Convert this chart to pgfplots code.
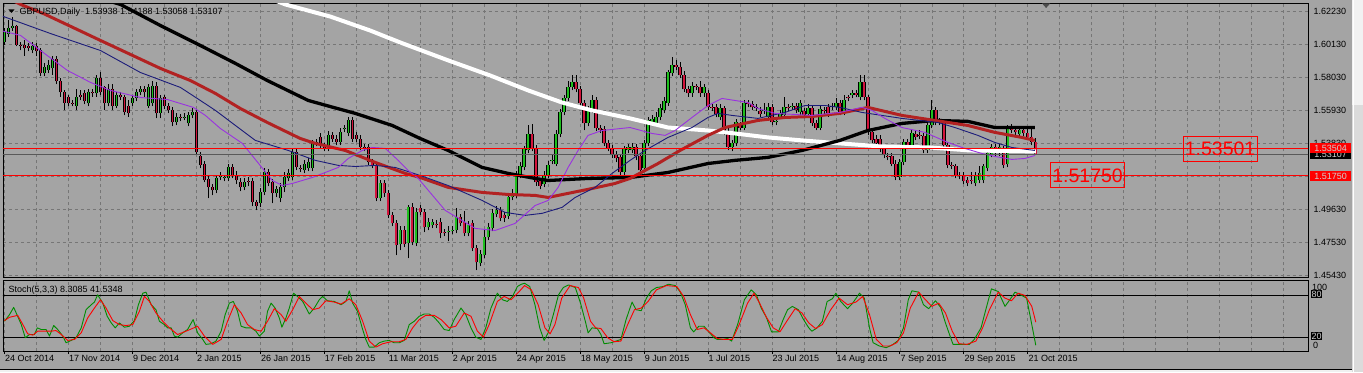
\documentclass[border=0pt]{standalone}
\usepackage{pgfplots}
\usepackage{pgfplotstable}
\usepackage{fontspec}
\setmainfont{Liberation Sans}
\pgfplotsset{compat=1.18}
\definecolor{bg}{HTML}{A4A4A4}
\definecolor{gridc}{HTML}{767676}
\definecolor{bullc}{HTML}{1EBE1E}
\definecolor{bearc}{HTML}{D2143C}
\definecolor{maRed}{HTML}{B22222}
\definecolor{maNavy}{HTML}{1C1C7A}
\definecolor{maPurp}{HTML}{9A32E0}
\definecolor{stG}{HTML}{008C00}
\definecolor{lbl}{HTML}{D0D0D0}
\newcommand{\sm}{\fontsize{9}{10}\selectfont}

\pgfplotstableread{
i o h l c
0 1.6024 1.6113 1.6005 1.6088
1 1.6075 1.6164 1.6062 1.6119
2 1.6119 1.6189 1.6100 1.6126
7 1.5973 1.6024 1.5954 1.5999
10 1.5827 1.5891 1.5808 1.5865
11 1.5846 1.5910 1.5827 1.5878
12 1.5859 1.5935 1.5820 1.5916
18 1.5623 1.5731 1.5592 1.5680
21 1.5636 1.5725 1.5617 1.5706
23 1.5700 1.5814 1.5680 1.5795
26 1.5636 1.5757 1.5617 1.5731
28 1.5623 1.5706 1.5604 1.5687
32 1.5642 1.5687 1.5623 1.5668
33 1.5668 1.5731 1.5649 1.5706
34 1.5706 1.5750 1.5687 1.5725
36 1.5623 1.5757 1.5604 1.5738
37 1.5636 1.5782 1.5617 1.5750
39 1.5573 1.5687 1.5541 1.5668
43 1.5515 1.5573 1.5496 1.5553
45 1.5547 1.5573 1.5528 1.5553
46 1.5509 1.5579 1.5490 1.5560
47 1.5560 1.5604 1.5541 1.5579
53 1.5083 1.5184 1.5064 1.5159
54 1.5165 1.5197 1.5146 1.5172
55 1.5159 1.5184 1.5140 1.5165
56 1.5159 1.5254 1.5140 1.5229
60 1.5102 1.5159 1.5083 1.5134
64 1.5000 1.5095 1.4975 1.5070
65 1.5070 1.5223 1.5051 1.5197
68 1.5064 1.5114 1.5038 1.5089
69 1.5032 1.5127 1.5006 1.5102
70 1.5102 1.5197 1.5070 1.5165
71 1.5159 1.5216 1.5140 1.5191
72 1.5165 1.5350 1.5146 1.5325
75 1.5210 1.5274 1.5191 1.5254
76 1.5223 1.5286 1.5204 1.5261
77 1.5223 1.5401 1.5204 1.5382
81 1.5350 1.5458 1.5331 1.5433
84 1.5388 1.5477 1.5369 1.5452
85 1.5471 1.5496 1.5452 1.5477
86 1.5445 1.5553 1.5426 1.5528
94 1.5032 1.5146 1.5013 1.5127
99 1.4739 1.4854 1.4701 1.4828
101 1.4746 1.4987 1.4650 1.4975
103 1.4746 1.4968 1.4726 1.4943
106 1.4847 1.4905 1.4828 1.4879
107 1.4860 1.4898 1.4841 1.4879
111 1.4816 1.4854 1.4758 1.4822
112 1.4822 1.4854 1.4803 1.4828
113 1.4828 1.4968 1.4809 1.4911
116 1.4809 1.4886 1.4790 1.4860
119 1.4619 1.4701 1.4600 1.4676
120 1.4669 1.4828 1.4650 1.4784
121 1.4784 1.4873 1.4765 1.4847
122 1.4841 1.4962 1.4822 1.4937
123 1.4930 1.4981 1.4911 1.4956
126 1.4917 1.5057 1.4898 1.5038
127 1.5038 1.5089 1.5019 1.5064
128 1.5051 1.5204 1.5032 1.5178
129 1.5178 1.5261 1.5159 1.5235
130 1.5229 1.5363 1.5210 1.5344
131 1.5337 1.5496 1.5318 1.5439
135 1.5121 1.5204 1.5102 1.5178
136 1.5178 1.5267 1.5159 1.5242
137 1.5267 1.5305 1.5248 1.5274
138 1.5254 1.5464 1.5235 1.5439
139 1.5439 1.5598 1.5420 1.5579
140 1.5579 1.5693 1.5560 1.5668
141 1.5668 1.5782 1.5649 1.5738
142 1.5738 1.5814 1.5719 1.5770
146 1.5509 1.5617 1.5490 1.5592
147 1.5592 1.5687 1.5573 1.5661
155 1.5197 1.5363 1.5178 1.5344
156 1.5337 1.5375 1.5318 1.5356
157 1.5337 1.5382 1.5318 1.5356
160 1.5223 1.5401 1.5204 1.5382
161 1.5382 1.5553 1.5363 1.5528
162 1.5509 1.5560 1.5490 1.5534
163 1.5509 1.5579 1.5490 1.5553
164 1.5547 1.5630 1.5528 1.5604
165 1.5592 1.5674 1.5573 1.5649
166 1.5642 1.5852 1.5623 1.5833
167 1.5827 1.5929 1.5808 1.5878
172 1.5700 1.5770 1.5680 1.5744
175 1.5700 1.5763 1.5680 1.5738
179 1.5547 1.5630 1.5528 1.5604
182 1.5356 1.5401 1.5331 1.5382
183 1.5382 1.5534 1.5363 1.5515
185 1.5483 1.5655 1.5464 1.5636
190 1.5585 1.5636 1.5566 1.5592
191 1.5547 1.5636 1.5528 1.5611
193 1.5515 1.5541 1.5496 1.5522
194 1.5553 1.5592 1.5534 1.5573
195 1.5560 1.5680 1.5541 1.5611
197 1.5611 1.5636 1.5592 1.5617
199 1.5579 1.5661 1.5560 1.5636
201 1.5566 1.5630 1.5547 1.5604
204 1.5483 1.5617 1.5464 1.5598
207 1.5611 1.5636 1.5592 1.5617
208 1.5611 1.5668 1.5592 1.5642
210 1.5579 1.5687 1.5560 1.5661
212 1.5687 1.5719 1.5668 1.5700
214 1.5674 1.5814 1.5655 1.5770
224 1.5165 1.5280 1.5146 1.5261
225 1.5261 1.5407 1.5242 1.5388
227 1.5369 1.5464 1.5350 1.5445
231 1.5337 1.5515 1.5318 1.5496
232 1.5496 1.5655 1.5477 1.5592
243 1.5127 1.5197 1.5108 1.5178
244 1.5146 1.5235 1.5127 1.5191
245 1.5146 1.5254 1.5127 1.5235
246 1.5223 1.5337 1.5204 1.5318
247 1.5312 1.5375 1.5293 1.5356
249 1.5318 1.5375 1.5299 1.5356
251 1.5248 1.5496 1.5229 1.5477
254 1.5439 1.5490 1.5420 1.5464
}\bulltab

\pgfplotstableread{
i o h l c
3 1.6126 1.6138 1.5999 1.6011
4 1.6011 1.6030 1.5973 1.5999
5 1.6005 1.6037 1.5941 1.5986
6 1.5999 1.6018 1.5967 1.5992
8 1.5999 1.6018 1.5935 1.5967
9 1.5973 1.5992 1.5808 1.5827
13 1.5916 1.5935 1.5757 1.5776
14 1.5776 1.5795 1.5680 1.5706
15 1.5706 1.5719 1.5592 1.5642
16 1.5674 1.5687 1.5617 1.5636
17 1.5642 1.5661 1.5617 1.5636
19 1.5687 1.5719 1.5655 1.5680
20 1.5700 1.5719 1.5630 1.5649
22 1.5706 1.5725 1.5680 1.5700
24 1.5795 1.5833 1.5687 1.5706
25 1.5738 1.5750 1.5592 1.5636
27 1.5731 1.5757 1.5592 1.5623
29 1.5687 1.5706 1.5655 1.5674
30 1.5674 1.5693 1.5560 1.5579
31 1.5623 1.5655 1.5553 1.5573
35 1.5725 1.5744 1.5680 1.5706
38 1.5750 1.5770 1.5541 1.5573
40 1.5674 1.5693 1.5598 1.5617
41 1.5617 1.5636 1.5573 1.5592
42 1.5592 1.5611 1.5490 1.5515
44 1.5547 1.5566 1.5522 1.5541
48 1.5579 1.5592 1.5312 1.5325
49 1.5299 1.5325 1.5223 1.5242
50 1.5248 1.5267 1.5134 1.5146
51 1.5153 1.5172 1.5032 1.5102
52 1.5102 1.5121 1.5051 1.5083
57 1.5229 1.5248 1.5159 1.5178
58 1.5178 1.5204 1.5121 1.5146
59 1.5134 1.5159 1.5076 1.5102
61 1.5140 1.5165 1.5108 1.5134
62 1.5140 1.5159 1.4981 1.5006
63 1.5006 1.5025 1.4956 1.4981
66 1.5197 1.5216 1.5108 1.5127
67 1.5134 1.5153 1.5000 1.5064
73 1.5325 1.5350 1.5210 1.5229
74 1.5223 1.5242 1.5197 1.5216
78 1.5388 1.5407 1.5363 1.5382
79 1.5420 1.5445 1.5350 1.5369
80 1.5363 1.5382 1.5331 1.5350
82 1.5433 1.5452 1.5394 1.5413
83 1.5413 1.5433 1.5369 1.5388
87 1.5528 1.5547 1.5394 1.5413
88 1.5433 1.5452 1.5388 1.5407
89 1.5413 1.5433 1.5337 1.5356
90 1.5356 1.5375 1.5331 1.5350
91 1.5356 1.5375 1.5242 1.5261
92 1.5261 1.5280 1.5223 1.5242
93 1.5242 1.5261 1.5013 1.5032
95 1.5127 1.5146 1.5044 1.5064
96 1.5064 1.5083 1.4905 1.4924
97 1.4924 1.4943 1.4854 1.4873
98 1.4873 1.4892 1.4669 1.4733
100 1.4828 1.4854 1.4720 1.4739
102 1.4975 1.5000 1.4733 1.4752
104 1.4968 1.4987 1.4924 1.4943
105 1.4943 1.4962 1.4816 1.4847
108 1.4867 1.4892 1.4841 1.4860
109 1.4879 1.4905 1.4777 1.4809
110 1.4816 1.4835 1.4790 1.4809
114 1.4911 1.4930 1.4854 1.4873
115 1.4879 1.4949 1.4790 1.4809
117 1.4873 1.4892 1.4695 1.4714
118 1.4714 1.4733 1.4574 1.4625
124 1.4956 1.4975 1.4886 1.4905
125 1.4924 1.4943 1.4879 1.4905
132 1.5439 1.5503 1.5331 1.5350
133 1.5350 1.5369 1.5114 1.5134
134 1.5140 1.5159 1.5089 1.5114
143 1.5770 1.5814 1.5706 1.5725
144 1.5731 1.5750 1.5623 1.5642
145 1.5642 1.5661 1.5464 1.5509
148 1.5661 1.5680 1.5458 1.5477
149 1.5477 1.5496 1.5445 1.5464
150 1.5471 1.5490 1.5363 1.5382
151 1.5382 1.5401 1.5331 1.5350
152 1.5350 1.5369 1.5286 1.5305
153 1.5312 1.5331 1.5261 1.5286
154 1.5293 1.5312 1.5172 1.5197
158 1.5356 1.5375 1.5274 1.5299
159 1.5299 1.5318 1.5178 1.5210
168 1.5878 1.5910 1.5852 1.5871
169 1.5871 1.5897 1.5795 1.5814
170 1.5820 1.5840 1.5706 1.5725
171 1.5725 1.5744 1.5680 1.5700
173 1.5744 1.5763 1.5719 1.5738
174 1.5738 1.5776 1.5680 1.5700
176 1.5700 1.5719 1.5592 1.5611
177 1.5611 1.5630 1.5585 1.5604
178 1.5611 1.5630 1.5547 1.5566
180 1.5604 1.5623 1.5433 1.5452
181 1.5458 1.5477 1.5337 1.5356
184 1.5496 1.5515 1.5464 1.5483
186 1.5636 1.5655 1.5611 1.5630
187 1.5630 1.5649 1.5592 1.5611
188 1.5611 1.5630 1.5585 1.5604
189 1.5585 1.5611 1.5547 1.5566
192 1.5611 1.5630 1.5496 1.5515
196 1.5611 1.5630 1.5585 1.5604
198 1.5617 1.5636 1.5573 1.5592
200 1.5585 1.5604 1.5541 1.5560
202 1.5604 1.5623 1.5490 1.5509
203 1.5509 1.5528 1.5464 1.5483
205 1.5592 1.5611 1.5566 1.5585
206 1.5611 1.5630 1.5553 1.5573
209 1.5642 1.5661 1.5560 1.5579
211 1.5674 1.5693 1.5649 1.5668
213 1.5700 1.5719 1.5674 1.5693
215 1.5770 1.5820 1.5655 1.5674
216 1.5674 1.5693 1.5433 1.5452
217 1.5452 1.5471 1.5382 1.5401
218 1.5413 1.5433 1.5363 1.5382
219 1.5413 1.5433 1.5325 1.5344
220 1.5350 1.5369 1.5286 1.5305
221 1.5299 1.5318 1.5274 1.5293
222 1.5299 1.5318 1.5235 1.5254
223 1.5254 1.5274 1.5146 1.5165
226 1.5394 1.5413 1.5350 1.5369
228 1.5439 1.5458 1.5401 1.5420
229 1.5433 1.5464 1.5407 1.5426
230 1.5426 1.5445 1.5318 1.5337
233 1.5592 1.5611 1.5496 1.5515
234 1.5522 1.5541 1.5496 1.5515
235 1.5515 1.5534 1.5337 1.5369
236 1.5369 1.5388 1.5223 1.5242
237 1.5242 1.5261 1.5216 1.5235
238 1.5235 1.5254 1.5159 1.5178
239 1.5178 1.5197 1.5153 1.5172
240 1.5178 1.5197 1.5121 1.5140
241 1.5146 1.5165 1.5108 1.5127
242 1.5146 1.5197 1.5121 1.5140
248 1.5356 1.5375 1.5299 1.5318
250 1.5344 1.5363 1.5223 1.5242
252 1.5477 1.5503 1.5445 1.5464
253 1.5464 1.5490 1.5433 1.5452
255 1.5464 1.5490 1.5426 1.5445
256 1.5445 1.5490 1.5401 1.5420
257 1.5420 1.5490 1.5369 1.5388
258 1.53938 1.54188 1.53058 1.53107
}\beartab

\pgfplotstableread{
x y
66.5 1.6304
70.25 1.6266
81.5 1.6189
91.5 1.6100
99 1.6024
111 1.5910
121.5 1.5814
131 1.5719
139.5 1.5642
147 1.5592
156.5 1.5541
166 1.5483
176 1.5464
182.75 1.5445
191 1.5420
199.5 1.5401
209 1.5382
219 1.5363
231.5 1.5356
241.5 1.5337
258 1.5331
}\maWhite

\pgfplotstableread{
x y
24 1.6304
29 1.6266
39 1.6132
49 1.6005
57.75 1.5891
65.75 1.5782
76 1.5655
82.25 1.5611
87.75 1.5573
97 1.5496
104 1.5413
111 1.5337
119.5 1.5229
126 1.5191
132.75 1.5159
136 1.5146
146 1.5159
156.5 1.5165
166 1.5197
176 1.5254
182.75 1.5274
191 1.5293
199.5 1.5337
209 1.5401
216 1.5464
224.5 1.5509
232.75 1.5528
241 1.5522
247.75 1.5483
257.75 1.5483
}\maBlack

\pgfplotstableread{
x y
1.5 1.6298
4 1.6266
9.75 1.6208
24 1.6037
39 1.5859
46.5 1.5782
52.75 1.5700
59 1.5604
65.75 1.5515
74 1.5413
77.75 1.5382
85.25 1.5337
92.75 1.5261
100.25 1.5191
104 1.5165
111 1.5102
119.5 1.5070
126 1.5057
132.75 1.5051
136 1.5038
141 1.5064
147 1.5095
152.75 1.5127
156.5 1.5159
163.5 1.5254
169 1.5337
176 1.5433
180.25 1.5483
188.5 1.5528
195.25 1.5547
202 1.5553
209 1.5573
216 1.5611
224.5 1.5560
232.75 1.5528
241 1.5496
247.75 1.5452
254.5 1.5420
257.75 1.5401
}\maRedT

\pgfplotstableread{
x y
-1 1.6196
11.5 1.6081
24 1.5973
34 1.5833
44 1.5738
49 1.5655
52.75 1.5592
62.75 1.5401
71 1.5337
77.75 1.5274
83.5 1.5242
87.75 1.5235
92.75 1.5242
97.75 1.5229
104 1.5178
111 1.5114
119.5 1.5019
125.25 1.4943
130.25 1.4924
134.5 1.4937
139.5 1.4975
142.75 1.5038
147.75 1.5102
152 1.5191
156.5 1.5274
160.25 1.5337
166 1.5420
172 1.5483
176 1.5547
178.5 1.5573
182 1.5560
188.5 1.5541
195.25 1.5579
200.25 1.5623
205.25 1.5623
209 1.5611
214.5 1.5579
224.5 1.5541
233.5 1.5515
237.75 1.5483
243.5 1.5433
247.75 1.5388
252 1.5356
257.75 1.5337
}\maNavyT

\pgfplotstableread{
x y
-1 1.6100
4 1.6069
9 1.5973
15.75 1.5846
21.5 1.5770
26.5 1.5719
34 1.5674
40.75 1.5661
47.25 1.5611
50.25 1.5560
54 1.5477
59.5 1.5382
67 1.5146
69.5 1.5114
72 1.5127
77 1.5165
83.5 1.5229
86 1.5286
89.5 1.5337
92 1.5356
95.25 1.5350
98.5 1.5274
101 1.5210
103.5 1.5159
110.25 1.4956
117.75 1.4841
122.75 1.4828
127.75 1.4873
132.75 1.4987
136 1.5019
138.5 1.5102
141 1.5229
143.5 1.5337
146 1.5433
149.5 1.5464
156.5 1.5483
162 1.5445
165.25 1.5433
167.75 1.5464
172 1.5547
176 1.5623
179.5 1.5668
186 1.5642
188.5 1.5604
192.75 1.5573
202 1.5560
209 1.5579
214.5 1.5611
217 1.5592
220.25 1.5541
224.5 1.5483
230.25 1.5452
236 1.5388
240.25 1.5350
244.5 1.5318
247.75 1.5299
252 1.5280
255.25 1.5286
257.75 1.5305
}\maPurpT

\pgfplotstableread{
x y
0 42.9
1.25 52.4
2.3 62.9
3.3 50
4.2 38.1
5.2 19.1
6.25 23.8
7.5 23.8
8.2 33.4
9.2 31
10.4 31
11.25 21.5
12.3 36.7
13.3 31
14.6 21.5
15.4 11.9
16.7 15.3
17.9 19.1
19.2 33.4
20.4 59.5
21.7 66.7
22.5 70.5
23.3 81
24.6 69
25.7 50
26.7 40.5
27.7 33.4
28.75 40.5
30 34.3
31.25 35.7
32.5 43.8
33.5 66.7
34.6 83.3
35.4 84.8
36.7 66.7
37.9 59.5
38.75 42.9
40 38.1
40.8 33.4
41.7 33.4
42.5 21.5
43.3 20
44.6 26.2
45.8 31
47.2 45.3
48.3 26.2
49.6 16.7
50.4 9.6
51.7 10.5
52.9 14.3
54.2 28.6
55.2 52.4
56.25 69
57.25 71.4
58.3 57.2
59.2 35.7
60.4 33.4
61.7 33.4
62.9 28.6
63.75 21.5
65 28.6
65.8 57.2
66.7 69
67.7 61.9
68.75 47.6
69.4 34.3
70.4 47.6
71.25 61.9
72.3 83.3
73.3 78.6
74.6 71.4
76.25 53.3
77.5 61.9
78.75 73.8
79.6 78.6
80.8 72.4
82.5 71.4
84.2 66.7
85.4 71.4
86.25 86.7
87.1 69
88.3 57.2
89.6 31
90.4 16.7
91.25 5.7
92.5 5.7
93.75 11.9
95 14.3
96.25 15.3
97.5 11.9
98.75 11.9
100 15.3
101.25 38.1
102.5 42.9
103.75 50
105 53.3
106.25 53.3
107.5 48.6
108.75 40.5
110 31
111.25 29.5
112.5 45.3
114.2 61.9
115.4 52.4
116.7 33.4
117.9 20
119.2 16.7
120.4 33.4
121.7 61.9
123.3 83.3
124.6 73.8
125.8 71.4
127.1 78.6
128.3 92.9
129.3 96.2
130.1 97.6
131.4 92.9
132.7 66.7
133.9 33.4
135 15.3
136 26.2
137.3 52.4
138.6 81
139.8 91.4
141.1 95.2
142.8 91.4
144.1 69
145.3 42.9
146 26.2
147 33.4
148.3 32.4
149.2 23.8
150 10.5
151.7 11.9
153 14.3
154.2 16.7
155.5 45.3
157 70.5
158 59.5
159.3 58.1
160.6 76.2
161.8 86.7
163.1 91.4
164.8 92.9
166.1 96.2
167.8 94.3
169 85.7
170.3 66.7
171.6 33.4
172.4 27.6
173.7 35.7
175 35.7
176.2 27.6
177.5 19.1
178.3 16.7
179.6 16.7
180.9 18.1
181.9 14.3
183.4 38.1
185.1 73.8
186.8 88.1
188.1 81
189.3 61.9
190.6 48.6
191.9 27.6
193.6 27.6
194.8 45.3
195.9 59.5
197.1 64.3
198.6 59.5
199.9 45.3
201.2 33.4
202 28.6
203.3 33.4
204.6 42.9
205.8 71.4
207.1 75.2
208 83.3
209.2 71.4
210.9 61
212.2 69
213.9 83.3
215.1 76.2
216.4 33.4
217.3 11.9
218.9 7.2
220.6 4.8
222.3 9.6
223.6 15.3
224.9 33.4
226.1 73.8
227 86.7
228.7 84.8
229.9 66.7
231.2 61
232.9 72.4
234.2 62.9
235.4 40.5
236.7 19.1
237.3 9.6
239.3 9.6
241.4 9.6
242.6 16.7
244.3 33.4
245.6 61.9
246.9 89.5
248.6 85.7
250.3 64.3
251.5 73.8
252.8 84.8
254.5 80
255.7 76.2
257 38.1
258 8.3
}\stMain

\pgfplotstableread{
x y
0 43.8
1.25 48.6
3.3 51.4
4.6 38.1
5.8 24.8
7.1 22.9
8.3 28.6
10 28.6
11.7 28.6
12.9 29.5
14.2 23.8
15.8 15.3
17.5 16.7
19.2 26.2
20.8 47.6
22.5 61.9
24 73.8
25.4 61.9
27.1 43.8
28.75 38.1
30.4 36.7
32.1 38.1
33.75 57.2
35 78.6
36.25 71.4
37.9 54.8
39.6 42.9
41.25 33.4
43.3 23.8
45.8 29.5
48.3 35.7
50 21.5
52.1 9.6
54.2 16.7
55.8 42.9
57.5 66.7
59.2 54.8
60.8 38.1
62.5 31
64.2 28.6
65.8 42.9
67.5 61
69.2 52.4
70.4 42.9
72.1 59.5
73.75 78.6
75.4 69
77.1 59.5
78.75 61.9
80.4 72.4
82.5 70.5
84.2 67.6
86.25 75.2
87.9 66.7
89.6 42.9
91.25 14.3
92.9 5.7
94.6 10.5
96.7 13.4
98.75 13.4
100.4 16.7
102.1 33.4
103.75 45.3
105.4 51.4
107.5 51.4
109.2 45.3
111.25 33.4
112.9 35.7
115 54.8
116.7 50
118.3 28.6
119.8 20
121.25 38.1
123.3 71.4
125 78.6
126.7 73.8
128.5 84
130.1 94.3
131.8 88.1
133.5 66.7
135.2 33.4
136.5 24.8
137.7 38.1
139.4 76.2
141.5 94.3
143.6 91.4
144.9 76.2
146.6 42.9
147.9 33.4
149.2 32.4
150.9 19.1
152.5 13.4
154.2 14.3
155.9 38.1
157.6 59.5
159.3 61.9
161 71.4
163.1 88.1
165.6 94.3
168.2 92.9
169.9 78.6
171.6 52.4
173.3 31
175 33.4
176.6 26.2
178.3 18.1
180 16.7
182.1 16.7
183.8 38.1
185.9 69
187.5 83.3
188.9 69
190.6 48.6
192.3 33.4
194 27.6
195.7 42.9
197.8 61
199.5 54.8
201.2 40.5
202.9 32.4
204.6 38.1
206.7 59.5
208.8 76.2
210.9 66.7
213 70.5
214.7 78.6
216.4 52.4
218.1 16.7
219.8 7.2
221.5 7.2
223.2 11.9
224.9 26.2
226.6 61.9
228.7 84.8
230.4 73.8
232 64.3
233.7 69
235.4 54.8
237.1 28.6
238.8 10.5
240.8 9.6
243 14.3
244.7 33.4
246.4 59.5
248.6 84.8
250.3 76.2
251.9 72.4
253.6 83.3
255.3 80
257 64.3
258 41.5
}\stSig

\begin{document}
\begin{tikzpicture}
% background and window frame
\begin{scope}[x=1pt,y=1pt]
\fill[bg] (0,0) rectangle (1363,372);
\fill[white!95!black] (1352,267) rectangle (1363,372);
\fill[white!86!black] (1352,0) rectangle (1363,267);
\draw[white, line width=1pt] (1353.5,0) -- (1353.5,372);
\fill[white!94!black] (0,0) rectangle (1352,2);
\draw[black, line width=1pt] (0,2.5) -- (1352,2.5);
\end{scope}

% ---------------- main price panel ----------------
\begin{axis}[
  scale only axis, width=1305.5pt, height=274pt,
  at={(2.5pt,369pt)}, anchor=north west,
  xmin=-0.375, xmax=326.1, ymin=1.45294, ymax=1.6272,
  axis line style={black, line width=0.9pt},
  xtick={0,8,...,320}, xticklabel=\empty,
  ytick={1.4543,1.4753,1.4963,1.5173,1.5383,1.5593,1.5803,1.6013,1.6223},
  ytick pos=right, yticklabel pos=right,
  yticklabel style={/pgf/number format/fixed,/pgf/number format/fixed zerofill,/pgf/number format/precision=5,/pgf/number format/assume math mode=true, font=\sm, black, anchor=west, xshift=2pt},
  major tick length=0pt,
  grid=major, major grid style={gridc, line width=0.7pt, dash pattern=on 3pt off 3pt},
  clip=true,
]
% wicks
\addplot[draw=none, mark=none, forget plot, error bars/.cd, y dir=plus, y explicit, error mark=none, error bar style={black, line width=0.8pt}]
  table[x=i, y=l, y error plus expr=\thisrow{h}-\thisrow{l}] {\bulltab};
\addplot[draw=none, mark=none, forget plot, error bars/.cd, y dir=plus, y explicit, error mark=none, error bar style={black, line width=0.8pt}]
  table[x=i, y=l, y error plus expr=\thisrow{h}-\thisrow{l}] {\beartab};
% bodies
\addplot[draw=none, mark=none, forget plot, error bars/.cd, y dir=plus, y explicit, error mark=none, error bar style={black, line width=3.3pt}]
  table[x=i, y=o, y error plus expr=\thisrow{c}-\thisrow{o}] {\bulltab};
\addplot[draw=none, mark=none, forget plot, error bars/.cd, y dir=plus, y explicit, error mark=none, error bar style={bullc, line width=1.5pt}]
  table[x=i, y=o, y error plus expr=\thisrow{c}-\thisrow{o}] {\bulltab};
\addplot[draw=none, mark=none, forget plot, error bars/.cd, y dir=plus, y explicit, error mark=none, error bar style={black, line width=3.3pt}]
  table[x=i, y=c, y error plus expr=\thisrow{o}-\thisrow{c}] {\beartab};
\addplot[draw=none, mark=none, forget plot, error bars/.cd, y dir=plus, y explicit, error mark=none, error bar style={bearc, line width=1.5pt}]
  table[x=i, y=c, y error plus expr=\thisrow{o}-\thisrow{c}] {\beartab};
% moving averages
\addplot[white, line width=4pt, line join=round] table {\maWhite};
\addplot[black, line width=3.3pt, line join=round] table {\maBlack};
\addplot[maRed, line width=3pt, line join=round] table {\maRedT};
\addplot[maNavy, line width=0.9pt, line join=round] table {\maNavyT};
\addplot[maPurp, line width=0.9pt, line join=round] table {\maPurpT};
% horizontal lines
\addplot[gray!70!black, line width=0.8pt] coordinates {(-1,1.53107) (330,1.53107)};
\addplot[red, line width=1pt] coordinates {(-1,1.53501) (330,1.53501)};
\addplot[red, line width=1pt] coordinates {(-1,1.51750) (330,1.51750)};
\end{axis}

% ---------------- stochastic panel ----------------
\begin{axis}[
  scale only axis, width=1305.5pt, height=70.3pt,
  at={(2.5pt,91.5pt)}, anchor=north west,
  xmin=-0.375, xmax=326.1, ymin=-0.2, ymax=101,
  axis line style={black, line width=0.9pt},
  xtick={0,16,...,256},
  xticklabels={24 Oct 2014,17 Nov 2014,9 Dec 2014,2 Jan 2015,26 Jan 2015,17 Feb 2015,11 Mar 2015,2 Apr 2015,24 Apr 2015,18 May 2015,9 Jun 2015,1 Jul 2015,23 Jul 2015,14 Aug 2015,7 Sep 2015,29 Sep 2015,21 Oct 2015},
  minor xtick={8,24,40,56,72,88,104,120,136,152,168,184,200,216,232,248,264,272,280,288,296,304,312,320},
  xtick pos=bottom, tick align=outside,
  major tick length=3pt, minor tick length=0pt,
  tick style={black, line width=0.8pt},
  xticklabel style={font=\sm, black, anchor=north west, inner xsep=0pt, inner ysep=1pt, xshift=0.5pt},
  ytick=\empty,
  xmajorgrids, xminorgrids,
  major grid style={gridc, line width=0.7pt, dash pattern=on 3pt off 3pt},
  minor grid style={gridc, line width=0.7pt, dash pattern=on 3pt off 3pt},
  clip=true,
]
\addplot[black, line width=0.9pt] coordinates {(-1,80) (330,80)};
\addplot[black, line width=0.9pt] coordinates {(-1,20) (330,20)};
\addplot[stG, line width=0.9pt, line join=round] table {\stMain};
\addplot[red, line width=0.9pt, line join=round] table {\stSig};
\end{axis}

% ---------------- texts and labels ----------------
\begin{scope}[x=1pt,y=1pt]
\fill[black] (8,363) -- (14,363) -- (11,359.5) -- cycle;
\node[anchor=west, inner sep=0pt, font=\sm] at (19,360) {GBPUSD,Daily\ \ 1.53938 1.54188 1.53058 1.53107};
\fill[gray!60!black] (1042,369) -- (1050,369) -- (1046,364.5) -- cycle;
\node[anchor=west, inner sep=0pt, font=\sm] at (8,82) {Stoch(5,3,3) 8.3085 41.5348};

% right price labels
\fill[black] (1310,213) rectangle (1351,223);
\node[text=lbl, font=\sm, inner sep=0pt] at (1330.5,218) {1.53107};
\fill[red] (1310,219.5) rectangle (1351,229.5);
\node[text=lbl, font=\sm, inner sep=0pt] at (1330.5,224.5) {1.53504};
\fill[red] (1310,191.5) rectangle (1351,201.5);
\node[text=lbl, font=\sm, inner sep=0pt] at (1330.5,196.5) {1.51750};

% big line labels
\node[draw=red, line width=1pt, text=red, minimum width=74pt, minimum height=25pt, inner sep=0pt, font=\fontsize{19.5}{20}\selectfont] at (1220,223.5) {1.53501};
\node[draw=red, line width=1pt, text=red, minimum width=74pt, minimum height=25pt, inner sep=0pt, font=\fontsize{19.5}{20}\selectfont] at (1087.5,197) {1.51750};

% stochastic scale labels
\node[anchor=west, inner sep=0pt, font=\sm] at (1312,84.5) {100};
\fill[black] (1311,74) rectangle (1322,82);
\node[text=lbl, font=\sm, inner sep=0pt] at (1316.5,78) {80};
\fill[black] (1311,32) rectangle (1322,40);
\node[text=lbl, font=\sm, inner sep=0pt] at (1316.5,36) {20};
\node[anchor=west, inner sep=0pt, font=\sm] at (1313,27) {0};
\end{scope}
\end{tikzpicture}
\end{document}
